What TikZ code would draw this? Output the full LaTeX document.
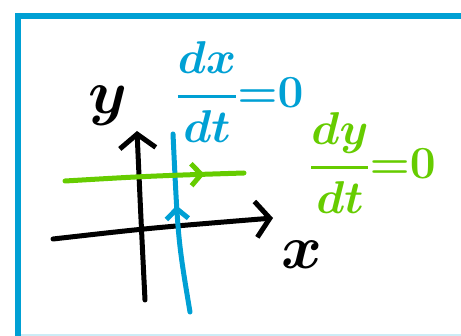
\RequirePackage{fix-cm}
\documentclass[tikz,border=0pt]{standalone}
\usepackage{amsmath}
\usetikzlibrary{arrows.meta, decorations.markings}
\definecolor{penblue}{RGB}{0,160,212}
\definecolor{pengreen}{RGB}{102,204,0}
\newcommand{\rate}[2]{\genfrac{}{}{3.5pt}{0}{#1}{#2}} % thick fraction bar
\tikzset{
  pen/.style={line width=5pt, line cap=round, line join=round}, % marker stroke
  axis/.style={pen, black, -{Straight Barb[length=14pt, width=36pt]}},
  % open arrow drawn half way along a curve
  midarrow/.style={postaction={decorate}, decoration={markings,
      mark=at position #1 with {\arrow{Straight Barb[length=10pt, width=22pt]}}}},
  frame/.style={penblue, line width=6pt},
  handtext/.style={font=\fontsize{46}{54}\selectfont\boldmath, inner sep=0pt},
  axislabel/.style={font=\fontsize{62}{70}\selectfont\boldmath, inner sep=0pt},
}

\begin{document}
\begin{tikzpicture}[x=1pt, y=-1pt]
    \useasboundingbox (0,0) rectangle (461,336);
    % slide frame
    \draw[frame] (15,16) -- (461,16);
    \draw[frame] (18,13) -- (18,336);
    \draw[penblue!20, line width=2pt] (21,335) -- (461,335);

    % axes
    \coordinate (y_start) at (145,300);
    \coordinate (y_end) at (137,131);
    \coordinate (x_start) at (53,239);
    \coordinate (x_end) at (273,218);
    \draw[axis] (y_start) .. controls (141,220) .. (y_end);
    \draw[axis] (x_start) .. controls (150,228) .. (x_end);
    \node[axislabel] (y_label) at (108,106) {$y$};
    \node[axislabel] (x_label) at (302,255) {$x$};

    % nullclines
    \coordinate (blue_start) at (190,312);
    \coordinate (blue_end) at (173,134);
    \coordinate (green_start) at (65,181);
    \coordinate (green_end) at (244,173);
    \draw[pen, penblue, midarrow=0.6] (blue_start) .. controls (178,240) .. (blue_end);
    \draw[pen, pengreen, midarrow=0.78] (green_start) .. controls (150,176) .. (green_end);

    \node[handtext, text=penblue] (dx_label) at (240,92) {$\rate{dx}{dt}{=}0$};
    \node[handtext, text=pengreen] (dy_label) at (373,163) {$\rate{dy}{dt}{=}0$};
\end{tikzpicture}
\end{document}
